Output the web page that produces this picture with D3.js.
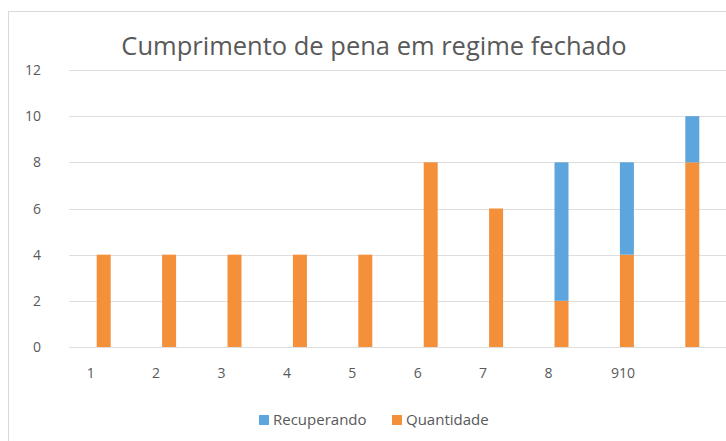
<!DOCTYPE html>
<html>
<head>
<meta charset="utf-8">
<script src="https://cdn.jsdelivr.net/npm/d3@7"></script>
<style>
  body { margin: 0; background: #fff; }
  text { font-family: "Open Sans", "Noto Sans", sans-serif; fill: #595959; }
</style>
</head>
<body>
<svg id="chart" width="726" height="441"></svg>
<script>
(function() {

  let categories = ["1", "2", "3", "4", "5", "6", "7", "8", "9", "10"];
  let tickLabels = ["1", "2", "3", "4", "5", "6", "7", "8", "910", ""];
  let quantidade = [4, 4, 4, 4, 4, 8, 6, 2, 4, 8];
  let recuperando = [0, 0, 0, 0, 0, 0, 0, 6, 4, 2];
  let yTicks = [0, 2, 4, 6, 8, 10, 12];
  let seriesNames = ["Recuperando", "Quantidade"];
  let colors = {Quantidade: "#F4903A", Recuperando: "#5DA5DD"};

  let svg = d3.select("#chart");

  // chart frame
  svg.append("rect")
     .attr("x", 8.5).attr("y", 11.5)
     .attr("width", 740).attr("height", 450)
     .attr("fill", "#fff")
     .attr("stroke", "#d9d9d9");

  let xScale = d3.scaleBand()
                 .domain(categories)
                 .range([71, 725])
                 .paddingInner(0.786)
                 .paddingOuter(0.393);
  let yScale = d3.scaleLinear()
                 .domain([0, 12])
                 .range([347, 70]);

  // gridlines
  svg.append("g")
     .selectAll("line")
     .data(yTicks)
     .enter()
     .append("line")
     .attr("x1", 69).attr("x2", 726)
     .attr("y1", d => Math.round(yScale(d)) + 0.5)
     .attr("y2", d => Math.round(yScale(d)) + 0.5)
     .attr("stroke", "#dedede")
     .attr("stroke-width", 1);

  // y labels
  svg.append("g")
     .selectAll("text")
     .data(yTicks)
     .enter()
     .append("text")
     .attr("text-anchor", "end")
     .attr("x", 41)
     .attr("y", d => yScale(d) + 5)
     .attr("font-size", "14px")
     .text(d => d);

  // stacked bars
  let rows = categories.map((c, i) => ({cat: c, Quantidade: quantidade[i], Recuperando: recuperando[i]}));
  let stack = d3.stack().keys(["Quantidade", "Recuperando"])(rows);

  svg.append("g")
     .selectAll("g")
     .data(stack)
     .enter()
     .append("g")
     .attr("fill", s => colors[s.key])
     .selectAll("rect")
     .data(s => s.filter(d => d[1] > d[0]))
     .enter()
     .append("rect")
     .attr("x", d => xScale(d.data.cat))
     .attr("width", xScale.bandwidth())
     .attr("y", d => yScale(d[1]))
     .attr("height", d => yScale(d[0]) - yScale(d[1]));

  // x labels (shifted left of the bars like the original)
  svg.append("g")
     .selectAll("text")
     .data(categories)
     .enter()
     .append("text")
     .attr("text-anchor", "middle")
     .attr("x", (c, i) => xScale(c) + xScale.bandwidth() / 2 + (tickLabels[i].length > 1 ? -4 : -13))
     .attr("y", 378)
     .attr("font-size", "14px")
     .text((c, i) => tickLabels[i]);

  // title
  svg.append("text")
     .attr("text-anchor", "middle")
     .attr("x", 374)
     .attr("y", 55)
     .attr("font-size", "25.5px")
     .text("Cumprimento de pena em regime fechado");

  // legend
  let legendX = [259, 392];
  let legend = svg.append("g")
                  .selectAll("g")
                  .data(seriesNames)
                  .enter()
                  .append("g")
                  .attr("transform", (d, i) => "translate(" + legendX[i] + ",415)");
  legend.append("rect")
        .attr("width", 10).attr("height", 10)
        .attr("fill", d => colors[d]);
  legend.append("text")
        .attr("x", 14)
        .attr("y", 10)
        .attr("font-size", "15px")
        .text(d => d);

})();
</script>
</body>
</html>
